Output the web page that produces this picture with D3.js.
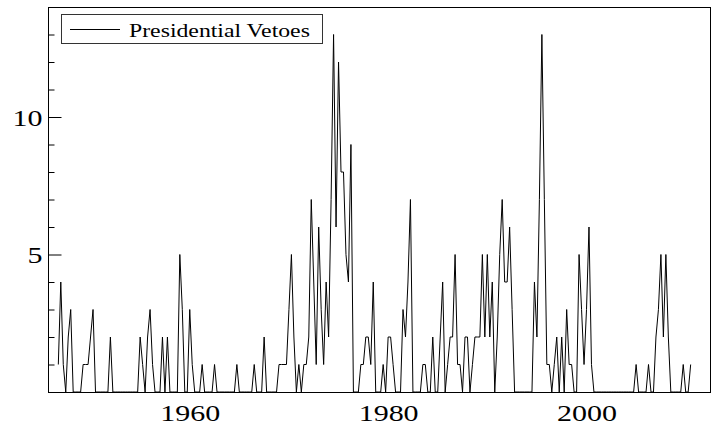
<!DOCTYPE html>
<html>
<head>
<meta charset="utf-8">
<script src="https://cdn.jsdelivr.net/npm/d3@7"></script>
<style>
  html, body { margin: 0; padding: 0; background: #fff; }
  svg { display: block; }
  text { font-family: "Liberation Serif", "Times New Roman", serif; fill: #000; }
</style>
</head>
<body>
<svg id="chart" width="719" height="430"></svg>
<script>
// Quarterly count of presidential vetoes, first quarter of the series at 1946.75
const seriesName = "Presidential Vetoes";
const firstPeriod = 1946.75;
const periodLength = 0.25;
const vetoes = [
  1, 4, 1, 0, 2, 3, 0, 0, 0, 0, 1, 1, 1, 2, 3, 0,
  0, 0, 0, 0, 0, 2, 0, 0, 0, 0, 0, 0, 0, 0, 0, 0,
  0, 2, 1, 0, 2, 3, 1, 0, 0, 0, 2, 0, 2, 0, 0, 0,
  0, 5, 3, 0, 0, 3, 1, 0, 0, 0, 1, 0, 0, 0, 0, 1,
  0, 0, 0, 0, 0, 0, 0, 0, 1, 0, 0, 0, 0, 0, 0, 1,
  0, 0, 0, 2, 0, 0, 0, 0, 0, 1, 1, 1, 1, 3, 5, 2,
  0, 1, 0, 1, 1, 2, 7, 4, 1, 6, 3, 1, 4, 2, 7, 13,
  6, 12, 8, 8, 5, 4, 9, 0, 0, 0, 1, 1, 2, 2, 1, 4,
  0, 0, 0, 1, 0, 2, 2, 1, 0, 0, 0, 3, 2, 4, 7, 0,
  0, 0, 0, 1, 1, 0, 0, 2, 0, 0, 2, 4, 0, 1, 2, 2,
  5, 1, 1, 0, 2, 2, 0, 1, 2, 2, 2, 5, 2, 5, 2, 4,
  0, 2, 5, 7, 4, 4, 6, 3, 0, 0, 0, 0, 0, 0, 0, 0,
  4, 2, 7, 13, 7, 1, 1, 0, 1, 2, 0, 2, 0, 3, 1, 1,
  0, 0, 5, 3, 1, 3, 6, 1, 0, 0, 0, 0, 0, 0, 0, 0,
  0, 0, 0, 0, 0, 0, 0, 0, 0, 1, 0, 0, 0, 0, 1, 0,
  0, 2, 3, 5, 2, 5, 2, 0, 0, 0, 0, 0, 1, 0, 0, 1
];
const xTickYears = [1960, 1980, 2000];
const yTickLabels = [5, 10];
const yMinorTicks = [1, 2, 3, 4, 6, 7, 8, 9, 11, 12, 13];

const points = vetoes.map((v, i) => ({ t: firstPeriod + i * periodLength, v }));

const svg = d3.select("#chart");
const plotLeft = 48, plotRight = 711, plotTop = 7, plotBottom = 392;
const textStretch = 1.25;   // glyphs are drawn wider than they are tall

const x = d3.scaleLinear().domain([1945.71, 2012.55]).range([plotLeft, plotRight]);
const y = d3.scaleLinear().domain([0, 14]).range([plotBottom, plotTop]);

// plot frame
svg.append("rect")
  .attr("x", plotLeft + 0.5).attr("y", plotTop + 0.5)
  .attr("width", plotRight - plotLeft - 1).attr("height", plotBottom - plotTop)
  .attr("fill", "none").attr("stroke", "#000").attr("stroke-width", 1);

// minor y ticks (inside the frame)
const minorAxis = d3.axisLeft(y).tickValues(yMinorTicks).tickSize(-6).tickFormat("");
svg.append("g").attr("transform", `translate(${plotLeft + 0.5},0)`).call(minorAxis)
  .call(g => g.select(".domain").remove())
  .call(g => g.selectAll("line").attr("stroke", "#000"));

// major y ticks with labels
const yAxis = d3.axisLeft(y).tickValues(yTickLabels).tickSize(-13).tickPadding(0);
svg.append("g").attr("transform", `translate(${plotLeft + 0.5},0)`).call(yAxis)
  .call(g => g.select(".domain").remove())
  .call(g => g.selectAll("line").attr("stroke", "#000"))
  .call(g => g.selectAll("text")
    .attr("font-size", 24)
    .attr("font-family", "Liberation Serif, serif")
    .attr("x", -6 / textStretch)
    .attr("dy", "0.34em")
    .attr("transform", `scale(${textStretch},1)`));

// x labels, no tick marks
const xAxis = d3.axisBottom(x).tickValues(xTickYears).tickSize(0).tickFormat(d3.format("d"));
svg.append("g").attr("transform", `translate(0,${plotBottom})`).call(xAxis)
  .call(g => g.select(".domain").remove())
  .call(g => g.selectAll("text")
    .attr("font-size", 24)
    .attr("font-family", "Liberation Serif, serif")
    .attr("y", 29).attr("dy", 0)
    .attr("transform", `scale(${textStretch},1)`));

// the series
const line = d3.line().x(d => x(d.t)).y(d => y(d.v));
svg.append("path").datum(points)
  .attr("d", line)
  .attr("fill", "none")
  .attr("stroke", "#000")
  .attr("stroke-width", 1)
  .attr("stroke-linejoin", "miter");

// legend
const legend = svg.append("g");
legend.append("rect")
  .attr("x", 61.5).attr("y", 14.5).attr("width", 261).attr("height", 29)
  .attr("fill", "#fff").attr("stroke", "#333").attr("stroke-width", 1);
legend.append("line")
  .attr("x1", 70).attr("x2", 120).attr("y1", 29.5).attr("y2", 29.5)
  .attr("stroke", "#000").attr("stroke-width", 1);
legend.append("text")
  .attr("transform", `translate(129,37) scale(${textStretch},1)`)
  .attr("font-size", 19)
  .text(seriesName);
</script>
</body>
</html>
